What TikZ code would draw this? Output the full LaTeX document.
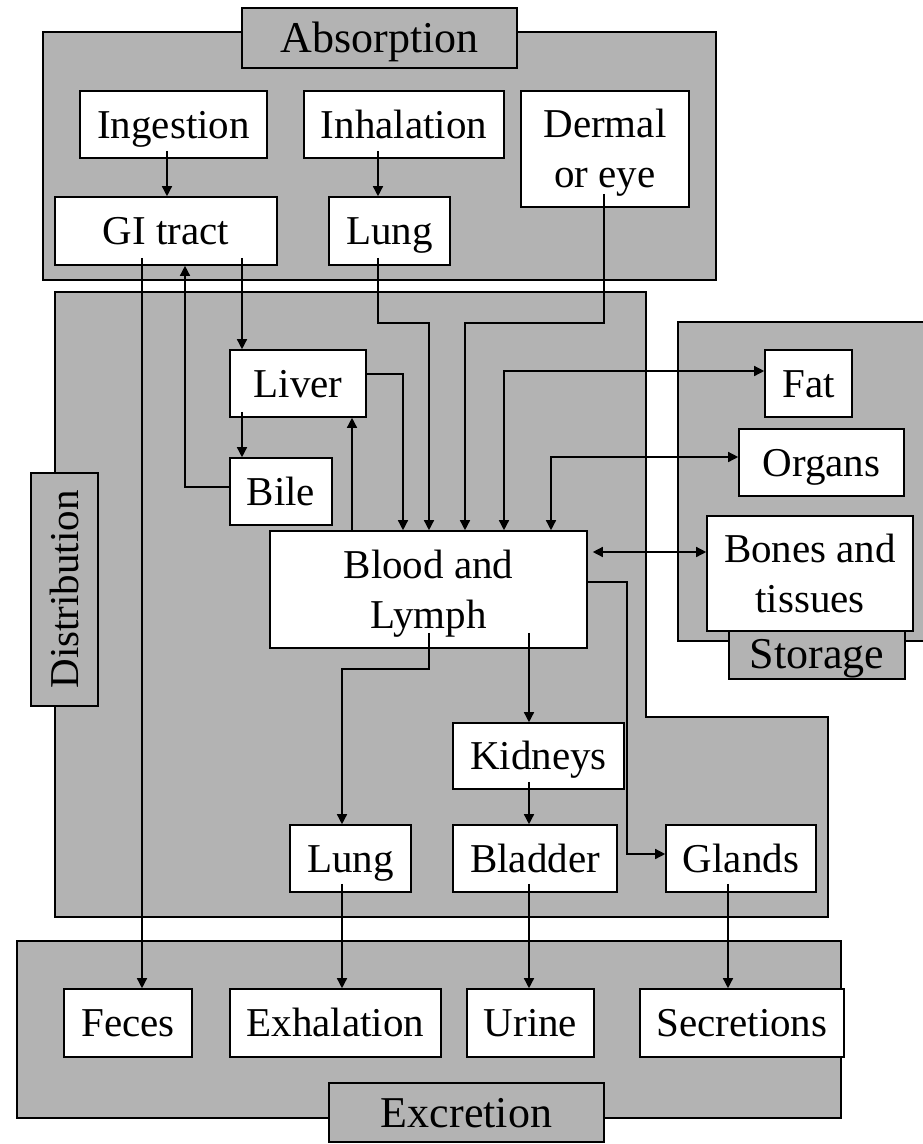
\documentclass[tikz,border=0pt]{standalone}
\usepackage{fontspec}
\setmainfont{Liberation Serif}
\usetikzlibrary{arrows.meta}
\definecolor{panelgray}{RGB}{179,179,179}
\begin{document}
\begin{tikzpicture}[x=1pt,y=-1pt,
  panel/.style={draw=black, fill=panelgray, line width=1.6pt},
  plabel/.style={draw=black, fill=panelgray, line width=1.6pt, inner sep=0pt, text height=29pt, text depth=0pt, font=\fontsize{44}{50}\selectfont},
  box/.style={draw=black, fill=white, line width=1.6pt, inner sep=0pt, align=center, text height=27pt, text depth=0pt, font=\fontsize{41}{50}\selectfont},
  twoline/.style={text height=77pt},
  arr/.style={line width=1.4pt, -{Triangle[length=10pt,width=10pt]}},
  darr/.style={line width=1.4pt, {Triangle[length=10pt,width=10pt]}-{Triangle[length=10pt,width=10pt]}}]
\useasboundingbox (0,0) rectangle (923,1144);
% panels
\draw[panel] (43,32) rectangle (716,280);
\draw[panel] (55,292) -- (646,292) -- (646,717) -- (828,717) -- (828,917) -- (55,917) -- cycle;
\draw[panel] (678,322) rectangle (924,641);
\draw[panel] (17,941) rectangle (841,1118);
% panel labels
\node[plabel, minimum width=275pt, minimum height=60pt] (labs) at (379.5,38) {Absorption};
\node[plabel, rotate=90, minimum width=233pt, minimum height=67pt, text height=27pt, font=\fontsize{41}{50}\selectfont] (ldist) at (64.5,589.5) {Distribution};
\node[plabel, minimum width=176pt, minimum height=51pt] (lsto) at (817,653.5) {Storage};
\node[plabel, minimum width=275pt, minimum height=59pt] (lexc) at (466.5,1112.5) {Excretion};
% boxes
\node[box, minimum width=187pt, minimum height=67pt] (ing) at (173.5,124.5) {Ingestion};
\node[box, minimum width=200pt, minimum height=67pt] (inh) at (404,124.5) {Inhalation};
\node[box, twoline, minimum width=168pt, minimum height=116pt] (der) at (605,149) {Dermal\\or eye};
\node[box, minimum width=222pt, minimum height=68pt] (gi) at (166,231) {GI tract};
\node[box, minimum width=121pt, minimum height=68pt] (lung1) at (389.5,231) {Lung};
\node[box, minimum width=136pt, minimum height=67pt] (liver) at (298,383.5) {Liver};
\node[box, minimum width=102pt, minimum height=67pt] (bile) at (281,491.5) {Bile};
\node[box, twoline, minimum width=317pt, minimum height=117pt] (blood) at (428.5,589.5) {Blood and\\Lymph};
\node[box, minimum width=87pt, minimum height=67pt] (fat) at (808.5,383.5) {Fat};
\node[box, minimum width=165pt, minimum height=67pt] (org) at (821.5,462.5) {Organs};
\node[box, twoline, minimum width=206pt, minimum height=115pt] (bones) at (810,573.5) {Bones and\\tissues};
\node[box, minimum width=171pt, minimum height=66pt] (kid) at (538.5,756) {Kidneys};
\node[box, minimum width=121pt, minimum height=67pt] (lung2) at (350.5,858.5) {Lung};
\node[box, minimum width=164pt, minimum height=67pt] (blad) at (535,858.5) {Bladder};
\node[box, minimum width=150pt, minimum height=67pt] (gla) at (741,858.5) {Glands};
\node[box, minimum width=128pt, minimum height=68pt] (fec) at (128,1023) {Feces};
\node[box, minimum width=211pt, minimum height=68pt] (exh) at (335.5,1023) {Exhalation};
\node[box, minimum width=127pt, minimum height=68pt] (uri) at (530.5,1023) {Urine};
\node[box, minimum width=204pt, minimum height=68pt] (sec) at (742,1023) {Secretions};
% connectors
\draw[arr] ([xshift=-6.5pt,yshift=8pt]ing.south) -- ([xshift=1pt]gi.north);
\draw[arr] ([xshift=-26pt,yshift=8pt]inh.south) -- ([xshift=-11.5pt]lung1.north);
\draw[arr] ([xshift=-24pt,yshift=8pt]gi.south) -- ([xshift=14pt]fec.north);
\draw[arr] ([yshift=4.5pt]bile.west) -| ([xshift=19pt]gi.south);
\draw[arr] ([xshift=76pt,yshift=8pt]gi.south) -- ([xshift=-56pt]liver.north);
\draw[arr] ([xshift=-56pt,yshift=6pt]liver.south) -- ([xshift=-39pt]bile.north);
\draw[arr] ([xshift=-76.5pt]blood.north) -- ([xshift=54pt]liver.south);
\draw[arr] ([yshift=9.5pt]liver.east) -| ([xshift=-25.5pt]blood.north);
\draw[arr] ([xshift=-11.5pt,yshift=8pt]lung1.south) -- ++(0,65) -| ([xshift=0.5pt]blood.north);
\draw[arr] ([xshift=-1pt,yshift=14pt]der.south) -- ++(0,129) -| ([xshift=36.5pt]blood.north);
\draw[darr] ([xshift=75.5pt]blood.north) |- ([yshift=12.5pt]fat.west);
\draw[darr] ([xshift=122.5pt]blood.north) |- ([yshift=5.5pt]org.west);
\draw[darr] ([xshift=5pt,yshift=37.5pt]blood.east) -- ([yshift=21.5pt]bones.west);
\draw[arr] ([xshift=0.5pt,yshift=16pt]blood.south) -- ++(0,36) -| ([xshift=-8.5pt]lung2.north);
\draw[arr] ([xshift=100.5pt,yshift=16pt]blood.south) -- ([xshift=-9.5pt]kid.north);
\draw[arr] ([yshift=7.5pt]blood.east) -- ++(39,0) |- ([yshift=4.5pt]gla.west);
\draw[arr] ([xshift=-9.5pt,yshift=8pt]kid.south) -- ([xshift=-6pt]blad.north);
\draw[arr] ([xshift=-8.5pt,yshift=9pt]lung2.south) -- ([xshift=6.5pt]exh.north);
\draw[arr] ([xshift=-6pt,yshift=9pt]blad.south) -- ([xshift=-1.5pt]uri.north);
\draw[arr] ([xshift=-13pt,yshift=9pt]gla.south) -- ([xshift=-14pt]sec.north);
\end{tikzpicture}
\end{document}
